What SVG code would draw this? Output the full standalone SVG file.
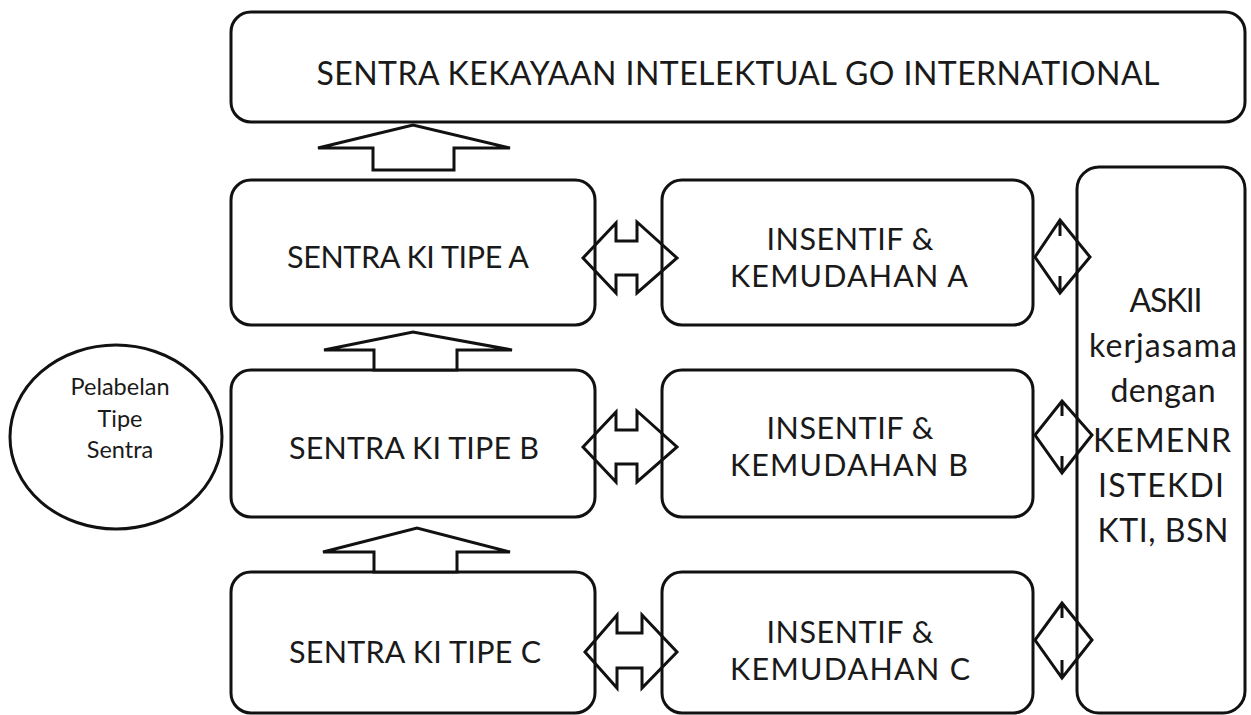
<svg xmlns="http://www.w3.org/2000/svg" width="1251" height="715" viewBox="0 0 1251 715">
<style>
.box{fill:#fff;stroke:#111;stroke-width:3}
.arr{fill:none;stroke:#111;stroke-width:3;stroke-linejoin:miter}
.t{font-family:Lato,"Open Sans","DejaVu Sans",sans-serif;fill:#1a1a1a;text-anchor:middle}
.big{font-size:30.5px}
.ttl{font-size:32px}
.ask{font-size:32px}
.sm{font-size:23.5px}
</style>
<rect width="1251" height="715" fill="#fff"/>
<g id="top">
<rect class="box" x="231" y="12" width="1014" height="110" rx="20"/>
<text class="t ttl" x="738" y="85" textLength="843" lengthAdjust="spacing">SENTRA KEKAYAAN INTELEKTUAL GO INTERNATIONAL</text>
</g>
<g id="circle">
<ellipse class="box" cx="116" cy="437" rx="106" ry="92" stroke-width="2.5"/>
<text class="t sm" x="120" y="395">Pelabelan</text>
<text class="t sm" x="120" y="427">Tipe</text>
<text class="t sm" x="120" y="458">Sentra</text>
</g>
<g id="tipeA">
<rect class="box" x="231" y="180" width="364" height="145" rx="20"/>
<text class="t big" x="408" y="268" textLength="242" lengthAdjust="spacing">SENTRA KI TIPE A</text>
</g>
<g id="tipeB">
<rect class="box" x="231" y="370" width="364" height="147" rx="20"/>
<text class="t big" x="414" y="459" textLength="250" lengthAdjust="spacing">SENTRA KI TIPE B</text>
</g>
<g id="tipeC">
<rect class="box" x="231" y="572" width="364" height="141" rx="20"/>
<text class="t big" x="415" y="663" textLength="252" lengthAdjust="spacing">SENTRA KI TIPE C</text>
</g>
<g id="insA">
<rect class="box" x="662" y="180" width="371" height="145" rx="20"/>
<text class="t big" x="850" y="250" textLength="167" lengthAdjust="spacing">INSENTIF &amp;</text>
<text class="t big" x="849" y="287" textLength="238" lengthAdjust="spacing">KEMUDAHAN A</text>
</g>
<g id="insB">
<rect class="box" x="662" y="370" width="371" height="147" rx="20"/>
<text class="t big" x="850" y="439" textLength="167" lengthAdjust="spacing">INSENTIF &amp;</text>
<text class="t big" x="849" y="476" textLength="238" lengthAdjust="spacing">KEMUDAHAN B</text>
</g>
<g id="insC">
<rect class="box" x="662" y="572" width="371" height="141" rx="20"/>
<text class="t big" x="850" y="643" textLength="167" lengthAdjust="spacing">INSENTIF &amp;</text>
<text class="t big" x="850" y="680" textLength="240" lengthAdjust="spacing">KEMUDAHAN C</text>
</g>
<g id="askii">
<rect class="box" x="1077" y="167" width="168" height="546" rx="22"/>
<text class="t ask" x="1166" y="312" textLength="73" lengthAdjust="spacing">ASKII</text>
<text class="t ask" x="1163" y="357" textLength="148" lengthAdjust="spacing">kerjasama</text>
<text class="t ask" x="1163" y="402" textLength="105" lengthAdjust="spacing">dengan</text>
<text class="t ask" x="1162" y="452" textLength="138" lengthAdjust="spacing">KEMENR</text>
<text class="t ask" x="1161" y="497" textLength="126" lengthAdjust="spacing">ISTEKDI</text>
<text class="t ask" x="1163" y="542" textLength="131" lengthAdjust="spacing">KTI, BSN</text>
</g>
<g id="connectors">
<path class="arr" d="M318,148 L413,125 L510,148 L454,148 L454,170 L373,170 L373,148 Z" style="fill:#fff"/>
<path class="arr" d="M324,350 L413,332 L512,350 L457,350 L457,370 L374,370 L374,350 Z" style="fill:#fff"/>
<path class="arr" d="M323,552 L417,528 L510,552 L457,552 L457,572 L374,572 L374,552 Z" style="fill:#fff"/>
<path class="arr" d="M583,258 L616,223 L616,241 L637,241 L637,222 L677,258 L637,293 L637,275 L616,275 L616,293 Z"/>
<path class="arr" d="M583,447 L616,412 L616,430 L637,430 L637,411 L677,447 L637,482 L637,464 L616,464 L616,482 Z"/>
<path class="arr" d="M585,652 L617,615 L617,633 L642,633 L642,615 L677,652 L642,688 L642,668 L617,668 L617,688 Z"/>
<path class="arr" d="M1060,220 L1090,257 L1060,293 L1035,257 Z M1060,220 L1060,236 M1060,276 L1060,293"/>
<path class="arr" d="M1062,401 L1092,435 L1062,473 L1035,435 Z M1062,401 L1062,416 M1062,456 L1062,473"/>
<path class="arr" d="M1062,603 L1092,640 L1062,678 L1035,640 Z M1062,603 L1062,618 M1062,660 L1062,678"/>
</g>
</svg>
